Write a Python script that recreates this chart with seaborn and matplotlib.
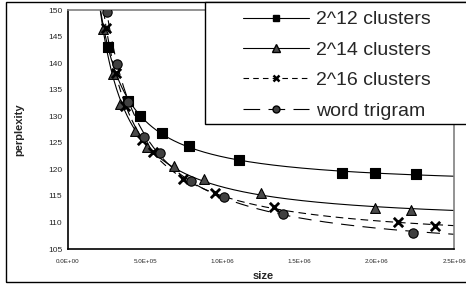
import numpy as np
import pandas as pd
import matplotlib
matplotlib.use("Agg")
import matplotlib.pyplot as plt
from matplotlib.lines import Line2D
from matplotlib.patches import Rectangle
import seaborn as sns

# data: model size vs perplexity
size_12 = [260e3, 390e3, 468e3, 610e3, 786e3, 1110e3, 1773e3, 1987e3, 2253e3]
ppl_12 = [143.0, 132.9, 130.0, 126.8, 124.4, 121.8, 119.3, 119.3, 119.1]

size_14 = [227e3, 292e3, 338e3, 435e3, 513e3, 688e3, 883e3, 1247e3, 1987e3, 2221e3]
ppl_14 = [146.4, 138.0, 132.3, 127.2, 124.2, 120.6, 118.2, 115.5, 112.7, 112.3]

size_16 = [247e3, 312e3, 370e3, 480e3, 552e3, 747e3, 955e3, 1331e3, 2137e3, 2377e3]
ppl_16 = [146.6, 138.1, 131.9, 125.5, 123.3, 118.2, 115.5, 112.9, 110.1, 109.3]

size_tri = [253e3, 318e3, 390e3, 494e3, 597e3, 799e3, 1013e3, 1390e3, 2234e3]
ppl_tri = [149.6, 139.8, 132.7, 126.1, 123.1, 117.8, 114.8, 111.6, 108.0]

labels = ["2^12 clusters", "2^14 clusters", "2^16 clusters", "word trigram"]
x_ticks = [0, 5e5, 1e6, 1.5e6, 2e6, 2.5e6]
y_ticks = list(range(105, 151, 5))

sns.set_style("white")
plt.rcParams["font.family"] = ["Liberation Sans", "DejaVu Sans"]
plt.rcParams["lines.scale_dashes"] = False


def fit_curve(sx, sy, xs):
    # trendline y = c + k * x^b, pick b by grid search
    sx = np.asarray(sx) / 1e6
    sy = np.asarray(sy)
    best = None
    for b in np.linspace(-3, -0.1, 300):
        A = np.column_stack([np.ones_like(sx), sx ** b])
        coef, *_ = np.linalg.lstsq(A, sy, rcond=None)
        err = np.sum((A @ coef - sy) ** 2)
        if best is None or err < best[0]:
            best = (err, b, coef)
    _, b, (c, k) = best
    return c + k * (xs / 1e6) ** b


fig = plt.figure(figsize=(4.66, 2.84), dpi=100)
ax = fig.add_axes([68 / 466, 1 - 249 / 284, (454 - 68) / 466, (249 - 10) / 284])

series = [
    (size_12, ppl_12, dict(marker="s", color="black", edgecolor="black", s=45, linewidth=0.8), "-"),
    (size_14, ppl_14, dict(marker="^", color="#4a4a4a", edgecolor="black", s=50, linewidth=0.8), "-"),
    (size_16, ppl_16, dict(marker="x", color="black", s=45, linewidth=2.0), (0, (5.5, 3.5))),
    (size_tri, ppl_tri, dict(marker="o", color="#404040", edgecolor="black", s=45, linewidth=0.8), (0, (9.5, 6))),
]

xs = np.linspace(1.8e5, 2.5e6, 400)
for sx, sy, mk, ls in series:
    trend = pd.DataFrame({"x": xs, "y": fit_curve(sx, sy, xs)})
    sns.lineplot(data=trend, x="x", y="y", ax=ax, color="black", linewidth=0.8, linestyle=ls)
    sns.scatterplot(x=sx, y=sy, ax=ax, zorder=3, **mk)

ax.set_xlim(0, 2.5e6)
ax.set_ylim(105, 150)
ax.set_xticks(x_ticks)
ax.set_xticklabels(["{:.1E}".format(v) for v in x_ticks], fontsize=4.5)
ax.set_yticks(y_ticks)
ax.set_yticklabels([str(v) for v in y_ticks], fontsize=6)
ax.tick_params(axis="both", direction="inout", length=4, width=0.8, pad=2)
ax.tick_params(axis="x", pad=5)
ax.set_xlabel("size", fontsize=8, fontweight="bold")
ax.set_ylabel("perplexity", fontsize=8, fontweight="bold")
ax.yaxis.set_label_coords(-(68 - 24) / 386, 0.5)
ax.xaxis.set_label_coords((263 - 68) / 386, -(271 - 249) / 239)

for side in ["left", "bottom"]:
    ax.spines[side].set_color("black")
    ax.spines[side].set_linewidth(1.2)
for side in ["top", "right"]:
    ax.spines[side].set_color("#808080")
    ax.spines[side].set_linewidth(1.2)

# outer chart border
fig.patches.append(Rectangle((6 / 466, 2 / 284), 1.0, 280 / 284, transform=fig.transFigure,
                             fill=False, edgecolor="black", linewidth=1.0, zorder=0))

# legend box
fig.patches.append(Rectangle((205 / 466, 1 - 124 / 284), 1.0, 122 / 284, transform=fig.transFigure,
                             facecolor="white", edgecolor="black", linewidth=1.0, zorder=5))

handles = [
    Line2D([], [], color="black", lw=0.8, ls="-", marker="s", markersize=5),
    Line2D([], [], color="black", lw=0.8, ls="-", marker="^", markersize=5.5,
           markerfacecolor="#4a4a4a"),
    Line2D([], [], color="black", lw=0.8, ls=(0, (4, 3)), marker="x", markersize=5,
           markeredgewidth=1.8),
    Line2D([], [], color="black", lw=0.8, ls=(0, (12, 6)), marker="o", markersize=5,
           markerfacecolor="#404040"),
]
leg = fig.legend(handles, labels, loc="upper left", bbox_to_anchor=(233 / 466, 1 - 1 / 284),
                 bbox_transform=fig.transFigure, frameon=False, fontsize=14,
                 handlelength=3.4, handletextpad=0.35, labelspacing=0.66, borderpad=0.0)
leg.set_zorder(6)

fig.savefig("out.png", dpi=100)
